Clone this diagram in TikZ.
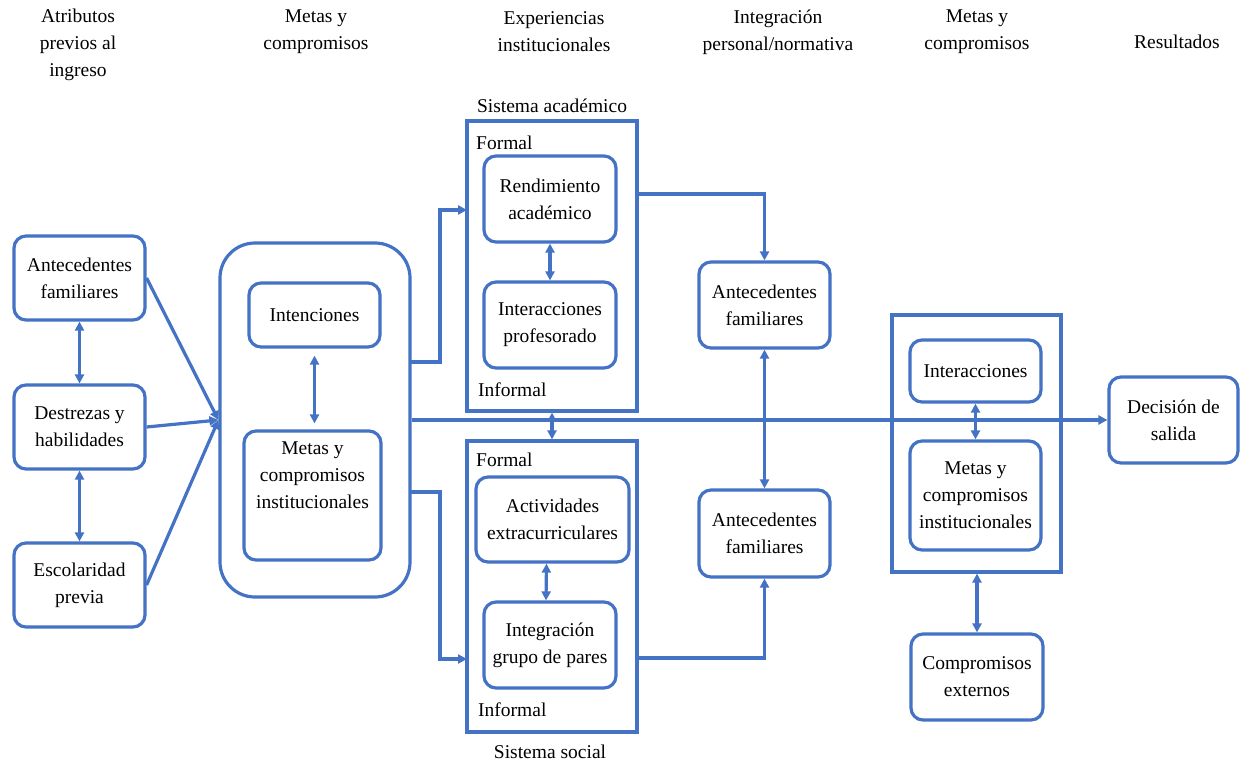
\documentclass[tikz,border=0pt]{standalone}
\usepackage{fontspec}
\setmainfont{Liberation Serif}
\usetikzlibrary{arrows.meta}
\definecolor{bl}{HTML}{4472C4}
\begin{document}
\begin{tikzpicture}[x=1pt,y=-1pt,
  every node/.style={font=\fontsize{19.5}{27}\selectfont, inner sep=0pt},
  box/.style={draw=bl, line width=3.2pt, rounded corners=12pt, align=center},
  frame/.style={draw=bl, line width=3.2pt},
  head/.style={align=center},
  tag/.style={anchor=west},
  conn/.style={draw=bl, line width=3.2pt},
  arr/.style={conn, -{Triangle[length=9pt,width=9pt]}},
  dbl/.style={conn, {Triangle[length=9pt,width=9pt]}-{Triangle[length=9pt,width=9pt]}}]
\useasboundingbox (0,0) rectangle (1241,763);

% column headers
\node[head] (h1) at (78,45) {Atributos\\previos al\\ingreso};
\node[head] (h2) at (316,32) {Metas y\\compromisos};
\node[head] (h3) at (554,32) {Experiencias\\institucionales};
\node[head] (h4) at (778,32) {Integración\\personal/normativa};
\node[head] (h5) at (977,32) {Metas y\\compromisos};
\node[head] (h6) at (1177,42) {Resultados};

% prior attributes
\node[box, minimum width=131pt, minimum height=84pt] (af) at (79.5,278) {Antecedentes\\familiares};
\node[box, minimum width=131pt, minimum height=84pt] (dh) at (79.5,427) {Destrezas y\\habilidades};
\node[box, minimum width=131pt, minimum height=84pt] (ep) at (79.5,585) {Escolaridad\\previa};

% goals and commitments (entry)
\node[box, rounded corners=35pt, minimum width=190pt, minimum height=354pt] (big) at (315,420) {};
\node[box, minimum width=131pt, minimum height=64pt] (int) at (314.5,315) {Intenciones};
\node[box, minimum width=137pt, minimum height=129pt] (mci) at (312.5,495.5) {Metas y\\compromisos\\institucionales\\[14pt]};

% academic system
\node[frame, minimum width=170pt, minimum height=290pt] (sa) at (552,266) {};
\node (sat) at (552,106) {Sistema académico};
\node[tag] (saf) at (476,143) {Formal};
\node[tag] (sai) at (478,390) {Informal};
\node[box, minimum width=132pt, minimum height=86pt] (ra) at (550,199) {Rendimiento\\académico};
\node[box, minimum width=132pt, minimum height=86pt] (ip) at (550,325) {Interacciones\\profesorado};

% social system
\node[frame, minimum width=170pt, minimum height=291pt] (ss) at (552,586.5) {};
\node (sst) at (550,752) {Sistema social};
\node[tag] (ssf) at (476,460) {Formal};
\node[tag] (ssi) at (478,710) {Informal};
\node[box, minimum width=153pt, minimum height=85pt] (ae) at (552.5,519.5) {Actividades\\extracurriculares};
\node[box, minimum width=132pt, minimum height=86pt] (ig) at (550,645) {Integración\\grupo de pares};

% integration
\node[box, minimum width=131pt, minimum height=86pt] (af2) at (764.5,305) {Antecedentes\\familiares};
\node[box, minimum width=131pt, minimum height=87pt] (af3) at (764.5,533.5) {Antecedentes\\familiares};

% goals and commitments (later)
\node[frame, minimum width=169pt, minimum height=257pt] (rb) at (976.5,443.5) {};
\node[box, minimum width=131pt, minimum height=62pt] (inter) at (975.5,371) {Interacciones};
\node[box, minimum width=131pt, minimum height=109pt] (mc2) at (975.5,495.5) {Metas y\\compromisos\\institucionales};
\node[box, minimum width=132pt, minimum height=86pt] (ce) at (977,677) {Compromisos\\externos};

% outcome
\node[box, minimum width=129pt, minimum height=86pt] (ds) at (1173.5,420) {Decisión de\\salida};

% connectors: prior attributes
\draw[dbl] (af.south) -- (dh.north);
\draw[dbl] (dh.south) -- (ep.north);
\draw[arr] (af.east) -- (big.west);
\draw[arr] (dh.east) -- (big.west);
\draw[arr] (ep.east) -- (big.west);
\draw[dbl, shorten <=7pt, shorten >=6pt] (int.south) -- (int.south |- mci.north);

% connectors: to the institutional systems
\coordinate (bu) at (410,362);
\coordinate (bd) at (410,492);
\coordinate (sau) at (467,210);
\coordinate (sad) at (467,659);
\draw[arr] (bu) -- ++(30,0) |- (sau);
\draw[arr] (bd) -- ++(30,0) |- (sad);
\draw[arr] (big.east) -- (ds.west);
\draw[dbl] (ra.south) -- (ip.north);
\draw[dbl] (sa.south) -- (ss.north);
\draw[dbl] ([xshift=-6pt]ae.south) -- ([xshift=-4pt]ig.north);

% connectors: integration
\coordinate (rau) at ([yshift=5pt]ra.center);
\coordinate (igl) at ([yshift=-13pt]ig.center);
\draw[arr] (sa.east |- rau) -| (af2.north);
\draw[arr] (ss.east |- igl) -| (af3.south);
\draw[dbl] (af2.south) -- (af3.north);

% connectors: later goals
\draw[dbl] (inter.south) -- (inter.south |- mc2.north);
\draw[dbl] (ce.north |- rb.south) -- (ce.north);
\end{tikzpicture}
\end{document}
